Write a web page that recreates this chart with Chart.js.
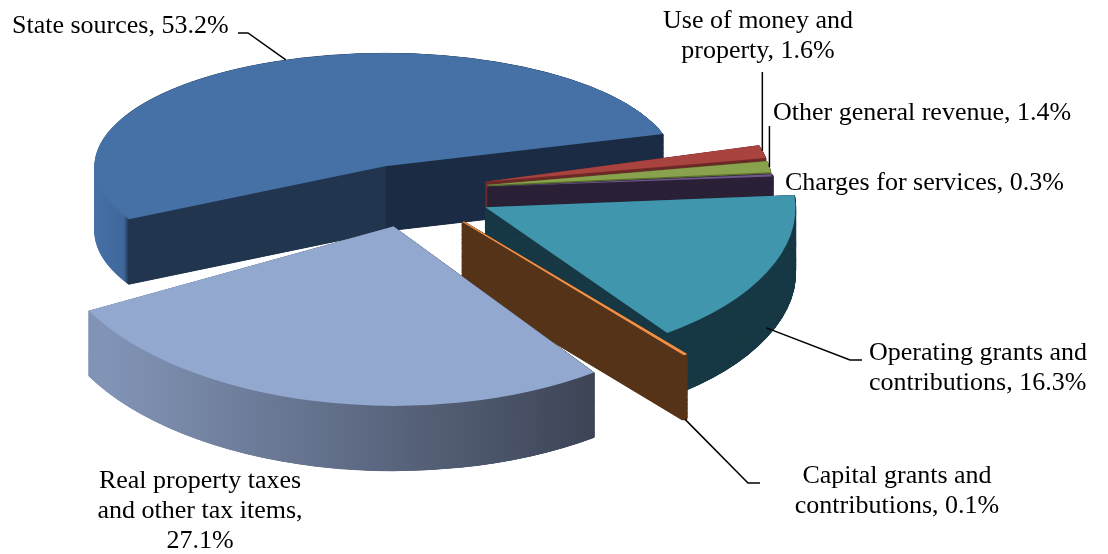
<!DOCTYPE html>
<html>
<head>
<meta charset="utf-8">
<script src="https://cdn.jsdelivr.net/npm/chart.js@4"></script>
<style>
  html, body { margin: 0; padding: 0; background: #fff; }
  #wrap { width: 1108px; height: 554px; }
</style>
</head>
<body>
<div id="wrap"><canvas id="revenue-chart" width="1108" height="554"></canvas></div>
<script>
// Revenue by source, share of total (%)
var categories = ["State sources", "Use of money and property", "Other general revenue",
  "Charges for services", "Operating grants and contributions",
  "Capital grants and contributions", "Real property taxes and other tax items"];
var shares = [53.2, 1.6, 1.4, 0.3, 16.3, 0.1, 27.1];
var labelLines = [
  ["State sources, 53.2%"],
  ["Use of money and", "property, 1.6%"],
  ["Other general revenue, 1.4%"],
  ["Charges for services, 0.3%"],
  ["Operating grants and", "contributions, 16.3%"],
  ["Capital grants and", "contributions, 0.1%"],
  ["Real property taxes", "and other tax items,", "27.1%"]
];

// look of the fake 3d pie (front slices drawn bigger to fake perspective)
var CX = 410, CY = 190, RADIUS = 300, DEPTH = 65, ROTATION = 242;
var explode = [66, 78, 78, 78, 83, 91, 72];
var radii = [290, 285, 285, 285, 310, 380, 345];
var tilts = [0.39, 0.45, 0.45, 0.45, 0.5, 0.43, 0.52];
var topColors = ['#4571a6', '#a9433f', '#88a24d', '#6f578d', '#4096ad', '#f0914a', '#92a8cf'];
var sideColors = ['#21354f', '#6e2a28', '#5a6f30', '#2c2238', '#1a3b47', '#57351a', '#5f6d8b'];

// label placement: first baseline, alignment, leader line
var labelPos = [
  { x: 12, y: 33, align: 'left', leader: { from: [[238, 33], [248, 33]], angle: 250, depth: 0 } },
  { x: 758, y: 28, align: 'center', leader: { vertical: 72, angle: -14, depth: 0 } },
  { x: 773, y: 120, align: 'left', leader: { vertical: 126, angle: -8, depth: 0 } },
  { x: 785, y: 190, align: 'left' },
  { x: 869, y: 360, align: 'left', leader: { from: [[862, 360], [850, 360]], angle: 25, depth: 55 } },
  { x: 897, y: 483, align: 'center', leader: { from: [[760, 483], [748, 483]], angle: null, depth: DEPTH } },
  { x: 200, y: 488, align: 'center' }
];

function sliceMid(el) {
  return (el.startAngle + el.endAngle) / 2;
}

// screen position of a point on a slice's rim
function project(el, i, angle, d) {
  var mid = sliceMid(el);
  var ax = Math.cos(mid) * explode[i] + Math.cos(angle) * radii[i];
  var ay = Math.sin(mid) * explode[i] + Math.sin(angle) * radii[i];
  return { x: el.x + ax, y: el.y + ay * tilts[i] + d };
}

function drawSlice(ctx, el, i, d, fill, edge, jitter) {
  var mid = sliceMid(el);
  var s = radii[i] / el.outerRadius;
  ctx.save();
  ctx.translate(jitter || 0, d);
  ctx.translate(el.x, el.y);
  ctx.scale(1, tilts[i]);
  ctx.translate(Math.cos(mid) * explode[i], Math.sin(mid) * explode[i]);
  ctx.scale(s, s);
  ctx.translate(-el.x, -el.y);
  var saved = el.options;
  el.options = Object.assign({}, saved, {
    backgroundColor: fill, borderColor: fill, borderWidth: edge, offset: 0
  });
  el.draw(ctx);
  el.options = saved;
  ctx.restore();
}

var pie3d = {
  id: 'pie3d',
  beforeDatasetsDraw: function(chart) {
    var ctx = chart.ctx;
    var arcs = chart.getDatasetMeta(0).data;
    var cx = arcs[0].x;
    var fills = sideColors.slice();
    // state sources: lit outer wall on the far left, dark cut faces
    var g0 = ctx.createLinearGradient(cx - RADIUS, 0, cx + RADIUS, 0);
    g0.addColorStop(0, '#4671a6');
    g0.addColorStop(0.05, '#3f679c');
    g0.addColorStop(0.058, '#21354f');
    g0.addColorStop(0.5, '#21354f');
    g0.addColorStop(0.502, '#1b2b43');
    g0.addColorStop(1, '#1b2b43');
    fills[0] = g0;
    // real property: lit from the left
    var g6 = ctx.createLinearGradient(cx - 250, 0, cx + 195, 0);
    g6.addColorStop(0, '#8294b6');
    g6.addColorStop(1, '#394051');
    fills[6] = g6;

    var n = 0;
    for (var d = DEPTH; d > 0; d -= 0.25) {
      // shift each layer a little sideways so AA gaps don't line up in columns
      var jit = ((n++ * 0.618) % 1 - 0.5);
      arcs.forEach(function(el, i) {
        var thin = el.circumference < 0.05;
        drawSlice(ctx, el, i, d, fills[i], thin ? 3 : 1, thin ? jit * 1.2 : jit * 0.6);
      });
    }
    arcs.forEach(function(el, i) { drawSlice(ctx, el, i, 0, topColors[i], i === 5 ? 1.5 : 0); });
    return false;
  },
  afterDraw: function(chart) {
    var ctx = chart.ctx;
    var arcs = chart.getDatasetMeta(0).data;
    ctx.save();
    ctx.fillStyle = '#000';
    ctx.strokeStyle = '#000';
    ctx.lineWidth = 1.5;
    ctx.font = '26px "Liberation Serif", "Times New Roman", serif';
    ctx.textBaseline = 'alphabetic';
    labelPos.forEach(function(p, i) {
      ctx.textAlign = p.align;
      labelLines[i].forEach(function(line, j) {
        ctx.fillText(line, p.x, p.y + j * 30);
      });
      if (!p.leader) return;
      var el = arcs[i];
      var ang = p.leader.angle === null ? sliceMid(el) : p.leader.angle * Math.PI / 180;
      var pt = project(el, i, ang, p.leader.depth);
      ctx.beginPath();
      if (p.leader.vertical !== undefined) {
        ctx.moveTo(pt.x, p.leader.vertical);
      } else {
        ctx.moveTo(p.leader.from[0][0], p.leader.from[0][1]);
        ctx.lineTo(p.leader.from[1][0], p.leader.from[1][1]);
      }
      ctx.lineTo(pt.x, pt.y);
      ctx.stroke();
    });
    ctx.restore();
  }
};

var revenueChart = new Chart(document.getElementById('revenue-chart'), {
  type: 'pie',
  data: {
    labels: categories,
    datasets: [{
      data: shares,
      backgroundColor: topColors,
      borderWidth: 0,
      hoverOffset: 0,
      radius: RADIUS,
      rotation: ROTATION
    }]
  },
  options: {
    responsive: false,
    animation: false,
    events: [],
    radius: RADIUS,
    rotation: ROTATION,
    layout: { padding: { left: 0, top: 0, right: 1108 - 2 * CX, bottom: 554 - 2 * CY } },
    plugins: {
      legend: { display: false },
      tooltip: { enabled: false }
    }
  },
  plugins: [pie3d]
});
</script>
</body>
</html>
